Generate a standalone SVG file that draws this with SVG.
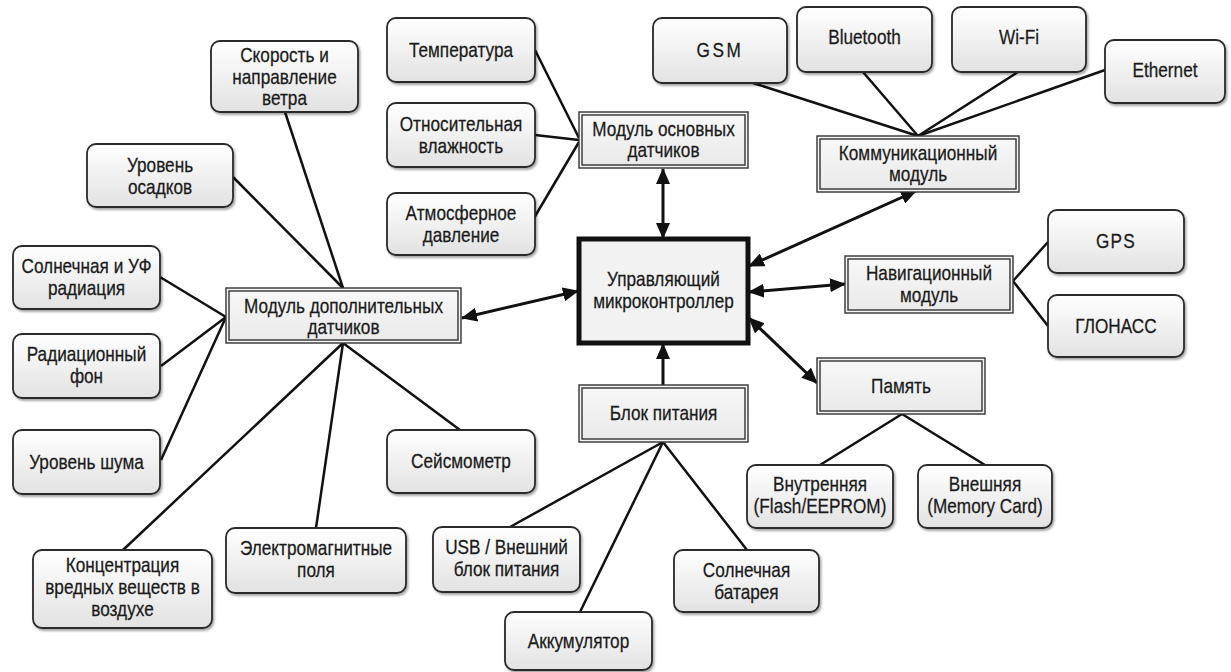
<svg xmlns="http://www.w3.org/2000/svg" width="1231" height="672" viewBox="0 0 1231 672">
<defs>
<linearGradient id="gLeaf" x1="0" y1="0" x2="0" y2="1">
<stop offset="0" stop-color="#ffffff"/>
<stop offset="1" stop-color="#e2e2e2"/>
</linearGradient>
<linearGradient id="gMod" x1="0" y1="0" x2="0" y2="1">
<stop offset="0" stop-color="#f7f7f7"/>
<stop offset="1" stop-color="#eaeaea"/>
</linearGradient>
<filter id="sh" x="-10%" y="-10%" width="125%" height="130%">
<feDropShadow dx="1.5" dy="2" stdDeviation="1.2" flood-color="#000" flood-opacity="0.35"/>
</filter>
<marker id="ah" viewBox="0 0 16 14" markerWidth="16" markerHeight="14" refX="15" refY="7" orient="auto-start-reverse" markerUnits="userSpaceOnUse">
<path d="M0,0 L16,7 L0,14 z" fill="#111"/>
</marker>
<style>
.leaf rect{fill:url(#gLeaf);stroke:#2a2a2a;stroke-width:1.8;filter:url(#sh)}
.mod .o{fill:#f4f4f4;stroke:#333;stroke-width:1.4}
.mod .i{fill:url(#gMod);stroke:#333;stroke-width:1.4}
text{font-family:"Liberation Sans Narrow","Arial Narrow","Liberation Sans",sans-serif;font-size:20px;fill:#1a1a1a;text-anchor:middle;stroke:#1a1a1a;stroke-width:0.25}
.c line{stroke:#111;stroke-width:2.5;fill:none}
.c .a{stroke-width:3;marker-end:url(#ah)}
.c .d{stroke-width:3;marker-start:url(#ah);marker-end:url(#ah)}
</style>
</defs>
<rect width="1231" height="672" fill="#fff"/>

<g class="c" id="connectors">
<line x1="535" y1="50" x2="579" y2="138"/>
<line x1="535" y1="135" x2="579" y2="140"/>
<line x1="534" y1="218" x2="579" y2="142"/>
<line class="d" x1="663" y1="169" x2="663" y2="238"/>
<line x1="285" y1="112" x2="343" y2="288"/>
<line x1="233" y1="177" x2="343" y2="288"/>
<line x1="160" y1="277" x2="226" y2="317"/>
<line x1="161" y1="366" x2="226" y2="317"/>
<line x1="161" y1="460" x2="226" y2="317"/>
<line x1="343" y1="343" x2="123" y2="550"/>
<line x1="343" y1="343" x2="316" y2="528"/>
<line x1="343" y1="343" x2="460" y2="430"/>
<line class="d" x1="462" y1="318" x2="578" y2="291"/>
<line class="a" x1="663" y1="385" x2="663" y2="344"/>
<line x1="663" y1="442" x2="510" y2="527"/>
<line x1="663" y1="442" x2="580" y2="612"/>
<line x1="663" y1="442" x2="747" y2="550"/>
<line class="d" x1="749" y1="266" x2="916" y2="191"/>
<line class="d" x1="749" y1="292" x2="845" y2="284"/>
<line class="d" x1="749" y1="318" x2="817" y2="383"/>
<line x1="918" y1="136" x2="753" y2="83"/>
<line x1="918" y1="136" x2="863" y2="72"/>
<line x1="918" y1="136" x2="1018" y2="72"/>
<line x1="918" y1="136" x2="1105" y2="70"/>
<line x1="1013" y1="281" x2="1048" y2="242"/>
<line x1="1013" y1="281" x2="1048" y2="326"/>
<line x1="902" y1="414" x2="820" y2="465"/>
<line x1="902" y1="414" x2="985" y2="465"/>
</g>

<g id="n-central">
<rect x="579" y="239" width="169" height="104" fill="#f2f2f2" stroke="#111" stroke-width="5"/>
<text transform="translate(663.5,286) scale(0.86,1)">Управляющий</text>
<text transform="translate(663.5,308) scale(0.86,1)">микроконтроллер</text>
</g>

<g class="mod" id="n-main">
<rect class="o" x="579" y="112" width="169" height="56"/><rect class="i" x="582" y="115" width="163" height="50"/>
<text transform="translate(663.5,136) scale(0.86,1)">Модуль основных</text><text transform="translate(663.5,157) scale(0.86,1)">датчиков</text>
</g>
<g class="mod" id="n-extra">
<rect class="o" x="226" y="288" width="235" height="55"/><rect class="i" x="229" y="291" width="229" height="49"/>
<text transform="translate(343.5,313) scale(0.86,1)">Модуль дополнительных</text><text transform="translate(343.5,334) scale(0.86,1)">датчиков</text>
</g>
<g class="mod" id="n-comm">
<rect class="o" x="817" y="136" width="202" height="56"/><rect class="i" x="820" y="139" width="196" height="50"/>
<text transform="translate(918,160) scale(0.86,1)">Коммуникационный</text><text transform="translate(918,181) scale(0.86,1)">модуль</text>
</g>
<g class="mod" id="n-nav">
<rect class="o" x="845" y="256" width="168" height="57"/><rect class="i" x="848" y="259" width="162" height="51"/>
<text transform="translate(929,280) scale(0.86,1)">Навигационный</text><text transform="translate(929,302) scale(0.86,1)">модуль</text>
</g>
<g class="mod" id="n-mem">
<rect class="o" x="817" y="358" width="168" height="56"/><rect class="i" x="820" y="361" width="162" height="50"/>
<text transform="translate(901,393) scale(0.86,1)">Память</text>
</g>
<g class="mod" id="n-power">
<rect class="o" x="579" y="385" width="169" height="57"/><rect class="i" x="582" y="388" width="163" height="51"/>
<text transform="translate(663.5,420) scale(0.86,1)">Блок питания</text>
</g>

<g class="leaf" id="n-wind"><rect x="211" y="41" width="147" height="71" rx="9"/>
<text transform="translate(284.5,62) scale(0.86,1)">Скорость и</text><text transform="translate(284.5,84) scale(0.86,1)">направление</text><text transform="translate(284.5,105) scale(0.86,1)">ветра</text></g>
<g class="leaf" id="n-rain"><rect x="87" y="144" width="146" height="63" rx="9"/>
<text transform="translate(160,172) scale(0.86,1)">Уровень</text><text transform="translate(160,194) scale(0.86,1)">осадков</text></g>
<g class="leaf" id="n-temp"><rect x="387" y="18" width="148" height="64" rx="9"/>
<text transform="translate(461,57) scale(0.86,1)">Температура</text></g>
<g class="leaf" id="n-hum"><rect x="387" y="103" width="148" height="64" rx="9"/>
<text transform="translate(461,131) scale(0.86,1)">Относительная</text><text transform="translate(461,153) scale(0.86,1)">влажность</text></g>
<g class="leaf" id="n-press"><rect x="387" y="193" width="148" height="62" rx="9"/>
<text transform="translate(461,220) scale(0.86,1)">Атмосферное</text><text transform="translate(461,242) scale(0.86,1)">давление</text></g>
<g class="leaf" id="n-gsm"><rect x="653" y="18" width="134" height="65" rx="9"/>
<text transform="translate(720,57) scale(0.86,1)" letter-spacing="3">GSM</text></g>
<g class="leaf" id="n-bt"><rect x="797" y="7" width="135" height="65" rx="9"/>
<text transform="translate(864.5,44) scale(0.86,1)">Bluetooth</text></g>
<g class="leaf" id="n-wifi"><rect x="952" y="7" width="134" height="65" rx="9"/>
<text transform="translate(1019,44) scale(0.86,1)">Wi-Fi</text></g>
<g class="leaf" id="n-eth"><rect x="1105" y="40" width="120" height="63" rx="9"/>
<text transform="translate(1165,77) scale(0.86,1)">Ethernet</text></g>
<g class="leaf" id="n-gps"><rect x="1048" y="210" width="136" height="63" rx="9"/>
<text transform="translate(1116,248) scale(0.86,1)" letter-spacing="1.5">GPS</text></g>
<g class="leaf" id="n-glonass"><rect x="1048" y="295" width="136" height="62" rx="9"/>
<text transform="translate(1116,333) scale(0.86,1)">ГЛОНАСС</text></g>
<g class="leaf" id="n-int"><rect x="747" y="465" width="146" height="63" rx="9"/>
<text transform="translate(820,491) scale(0.86,1)">Внутренняя</text><text transform="translate(820,513) scale(0.86,1)">(Flash/EEPROM)</text></g>
<g class="leaf" id="n-ext"><rect x="918" y="465" width="134" height="63" rx="9"/>
<text transform="translate(985,491) scale(0.86,1)">Внешняя</text><text transform="translate(985,513) scale(0.86,1)">(Memory Card)</text></g>
<g class="leaf" id="n-uv"><rect x="13" y="246" width="147" height="63" rx="9"/>
<text transform="translate(86.5,273) scale(0.86,1)">Солнечная и УФ</text><text transform="translate(86.5,295) scale(0.86,1)">радиация</text></g>
<g class="leaf" id="n-rad"><rect x="13" y="334" width="147" height="64" rx="9"/>
<text transform="translate(86.5,361) scale(0.86,1)">Радиационный</text><text transform="translate(86.5,383) scale(0.86,1)">фон</text></g>
<g class="leaf" id="n-noise"><rect x="13" y="430" width="147" height="64" rx="9"/>
<text transform="translate(86.5,469) scale(0.86,1)">Уровень шума</text></g>
<g class="leaf" id="n-seis"><rect x="387" y="430" width="148" height="63" rx="9"/>
<text transform="translate(461,468) scale(0.86,1)">Сейсмометр</text></g>
<g class="leaf" id="n-air"><rect x="33" y="550" width="179" height="78" rx="9"/>
<text transform="translate(122.5,572) scale(0.86,1)">Концентрация</text><text transform="translate(122.5,594) scale(0.86,1)">вредных веществ в</text><text transform="translate(122.5,616) scale(0.86,1)">воздухе</text></g>
<g class="leaf" id="n-em"><rect x="226" y="528" width="180" height="65" rx="9"/>
<text transform="translate(316,555) scale(0.86,1)">Электромагнитные</text><text transform="translate(316,577) scale(0.86,1)">поля</text></g>
<g class="leaf" id="n-usb"><rect x="433" y="527" width="147" height="65" rx="9"/>
<text transform="translate(506.5,554) scale(0.86,1)">USB / Внешний</text><text transform="translate(506.5,576) scale(0.86,1)">блок питания</text></g>
<g class="leaf" id="n-acc"><rect x="505" y="612" width="147" height="58" rx="9"/>
<text transform="translate(578.5,648) scale(0.86,1)">Аккумулятор</text></g>
<g class="leaf" id="n-solar"><rect x="674" y="550" width="145" height="62" rx="9"/>
<text transform="translate(746.5,577) scale(0.86,1)">Солнечная</text><text transform="translate(746.5,599) scale(0.86,1)">батарея</text></g>
</svg>
